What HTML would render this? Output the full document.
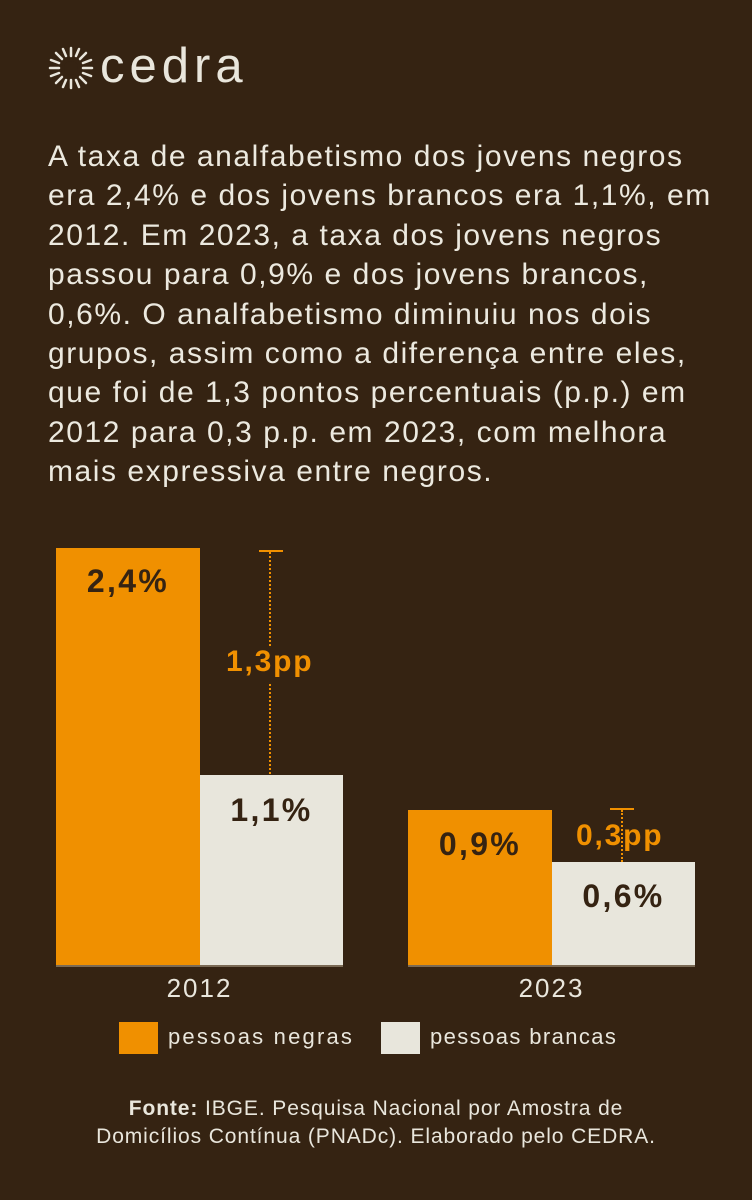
<!DOCTYPE html>
<html><head><meta charset="utf-8"><style>
body{margin:0;width:752px;height:1200px;background:#352312;position:relative;overflow:hidden;font-family:"Liberation Sans","DejaVu Sans",sans-serif;color:#e9e6dc}
.abs{position:absolute}
p.t{position:absolute;left:48px;top:137px;margin:0;font-size:30px;line-height:39.4px;width:720px;color:#ece9df;letter-spacing:1.55px;white-space:nowrap}
.lbl{position:absolute;font-weight:bold;font-size:32px;letter-spacing:2.3px;color:#352312;text-align:center}
</style></head><body>
<svg class="abs" style="left:46px;top:46px" width="50" height="44" viewBox="0 0 50 44">
<g stroke="#e9e6dc" stroke-width="2.5" stroke-linecap="round">
<line x1="25" y1="2" x2="25" y2="10"/><line x1="25" y1="34" x2="25" y2="42"/>
<line x1="4" y1="22" x2="13" y2="22"/><line x1="37" y1="22" x2="46" y2="22"/>
<line x1="10" y1="7" x2="16" y2="13"/><line x1="34" y1="31" x2="40" y2="37"/>
<line x1="40" y1="7" x2="34" y2="13"/><line x1="16" y1="31" x2="10" y2="37"/>
<line x1="17" y1="3" x2="20" y2="10"/><line x1="30" y1="34" x2="33" y2="41"/>
<line x1="33" y1="3" x2="30" y2="10"/><line x1="20" y1="34" x2="17" y2="41"/>
<line x1="5" y1="14" x2="13" y2="17"/><line x1="37" y1="27" x2="45" y2="30"/>
<line x1="45" y1="14" x2="37" y2="17"/><line x1="13" y1="27" x2="5" y2="30"/>
</g><circle cx="25" cy="22" r="7" fill="#352312"/></svg>
<div class="abs" style="left:100px;top:38px;font-size:49px;color:#e9e6dc;letter-spacing:5px">cedra</div>
<p class="t">A taxa de analfabetismo dos jovens negros<br>era 2,4% e dos jovens brancos era 1,1%, em<br>2012. Em 2023, a taxa dos jovens negros<br>passou para 0,9% e dos jovens brancos,<br>0,6%. O analfabetismo diminuiu nos dois<br>grupos, assim como a diferença entre eles,<br>que foi de 1,3 pontos percentuais (p.p.) em<br>2012 para 0,3 p.p. em 2023, com melhora<br>mais expressiva entre negros.</p>
<div class="abs" style="left:56px;top:548px;width:144px;height:418px;background:#f09000"></div>
<div class="abs" style="left:200px;top:775px;width:143px;height:191px;background:#e8e6dc"></div>
<div class="abs" style="left:408px;top:810px;width:144px;height:156px;background:#f09000"></div>
<div class="abs" style="left:552px;top:862px;width:143px;height:104px;background:#e8e6dc"></div>
<div class="abs" style="left:56px;top:965px;width:287px;height:2px;background:#7a6a55"></div>
<div class="abs" style="left:408px;top:965px;width:287px;height:2px;background:#7a6a55"></div>
<div class="lbl" style="left:56px;top:563px;width:144px">2,4%</div>
<div class="lbl" style="left:200px;top:792px;width:143px">1,1%</div>
<div class="lbl" style="left:408px;top:826px;width:144px">0,9%</div>
<div class="lbl" style="left:552px;top:878px;width:143px">0,6%</div>
<div class="abs" style="left:259px;top:550px;width:24px;height:2px;background:#f09000"></div>
<div class="abs" style="left:269px;top:552px;width:0;height:222px;border-left:2px dotted #f09000"></div>
<div class="abs" style="left:610px;top:808px;width:24px;height:2px;background:#f09000"></div>
<div class="abs" style="left:621px;top:810px;width:0;height:52px;border-left:2px dotted #f09000"></div>
<div class="abs" style="left:222px;top:646px;width:96px;height:36px;background:#352312"></div>
<div class="abs" style="left:226px;top:645px;font-size:30px;letter-spacing:1.8px;font-weight:bold;color:#f09000">1,3pp</div>
<div class="abs" style="left:576px;top:819px;font-size:30px;letter-spacing:1.8px;font-weight:bold;color:#f09000">0,3pp</div>
<div class="abs" style="left:56px;top:973px;width:287px;text-align:center;font-size:26px;letter-spacing:2px">2012</div>
<div class="abs" style="left:408px;top:973px;width:287px;text-align:center;font-size:26px;letter-spacing:2px">2023</div>
<div class="abs" style="left:119px;top:1022px;width:39px;height:32px;background:#f09000"></div>
<div class="abs" style="left:168px;top:1024px;font-size:22px;letter-spacing:2.2px">pessoas negras</div>
<div class="abs" style="left:381px;top:1022px;width:39px;height:32px;background:#e8e6dc"></div>
<div class="abs" style="left:430px;top:1024px;font-size:22px;letter-spacing:1.4px">pessoas brancas</div>
<div class="abs" style="left:0;top:1095px;width:752px;text-align:center;font-size:21px;letter-spacing:0.9px;line-height:28px"><b>Fonte:</b> IBGE. Pesquisa Nacional por Amostra de<br>Domicílios Contínua (PNADc). Elaborado pelo CEDRA.</div>
</body></html>
